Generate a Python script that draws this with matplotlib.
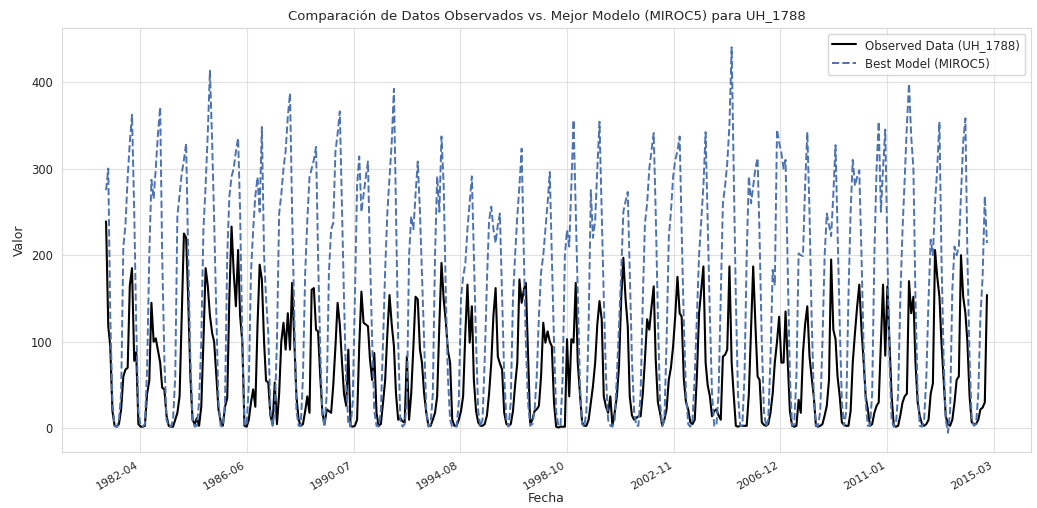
import numpy as np
import pandas as pd
import matplotlib
matplotlib.use("Agg")
import matplotlib.pyplot as plt
import matplotlib.dates as mdates
import seaborn as sns

# ---------------- data (monthly, Jan 1981 - Dec 2014) ----------------
start_month = "1981-01-01"

observed = [
    239, 118, 95, 20, 3, 2, 5, 22, 60, 68, 70, 165,            # 1981
    185, 78, 88, 5, 2, 2, 3, 40, 55, 145, 100, 104,            # 1982
    90, 76, 47, 45, 15, 3, 2, 2, 10, 18, 37, 130,              # 1983
    225, 220, 150, 60, 10, 5, 12, 3, 25, 100, 185, 165,        # 1984
    130, 110, 100, 60, 22, 8, 3, 25, 35, 152, 233, 180,        # 1985
    141, 206, 130, 100, 3, 2, 10, 30, 45, 25, 120, 189,        # 1986
    172, 100, 55, 53, 15, 5, 53, 5, 40, 100, 122, 91,          # 1987
    133, 91, 168, 100, 37, 10, 3, 5, 20, 37, 18, 160,          # 1988
    162, 114, 112, 60, 18, 5, 22, 20, 18, 50, 95, 145,         # 1989
    120, 76, 40, 26, 91, 3, 2, 3, 10, 95, 158, 122,            # 1990
    120, 118, 80, 56, 87, 18, 3, 5, 30, 56, 110, 154,          # 1991
    120, 95, 40, 10, 12, 8, 7, 83, 10, 40, 95, 152,            # 1992
    149, 91, 76, 40, 18, 3, 3, 10, 18, 37, 120, 191,           # 1993
    149, 122, 90, 76, 10, 3, 3, 10, 20, 37, 110, 166,          # 1994
    99, 141, 56, 20, 7, 3, 3, 5, 15, 40, 76, 130,              # 1995
    162, 83, 75, 68, 18, 5, 3, 5, 20, 50, 76, 172,             # 1996
    145, 160, 168, 83, 5, 10, 20, 22, 26, 60, 122, 99,         # 1997
    112, 100, 95, 30, 2, 1, 2, 2, 2, 103, 37, 103,             # 1998
    99, 168, 76, 40, 7, 3, 3, 10, 30, 49, 76, 120,             # 1999
    147, 126, 37, 25, 18, 37, 3, 18, 37, 72, 150, 197,         # 2000
    150, 118, 37, 15, 10, 12, 14, 14, 40, 80, 126, 114,        # 2001
    140, 164, 80, 30, 18, 3, 10, 22, 56, 70, 95, 130,          # 2002
    175, 133, 129, 56, 30, 22, 7, 5, 10, 60, 133, 160,         # 2003
    187, 76, 50, 37, 14, 20, 22, 15, 10, 83, 85, 91,           # 2004
    187, 76, 40, 3, 2, 3, 3, 3, 3, 40, 114, 187,               # 2005
    120, 60, 56, 7, 4, 3, 5, 18, 40, 76, 100, 129,             # 2006
    76, 76, 135, 76, 20, 3, 2, 3, 33, 18, 87, 120,             # 2007
    141, 83, 60, 37, 3, 2, 3, 5, 15, 26, 56, 195,              # 2008
    114, 103, 60, 37, 7, 4, 3, 3, 20, 76, 110, 140,            # 2009
    166, 114, 80, 37, 22, 3, 5, 18, 26, 30, 100, 166,          # 2010
    84, 164, 100, 37, 3, 2, 3, 15, 30, 37, 40, 170,            # 2011
    133, 152, 76, 30, 14, 5, 3, 5, 10, 40, 52, 206,            # 2012
    175, 152, 100, 56, 14, 5, 3, 10, 30, 56, 60, 200,          # 2013
    152, 133, 100, 37, 7, 5, 5, 10, 22, 24, 30, 154,           # 2014
]

model = [
    275, 300, 130, 30, 3, 2, 10, 40, 210, 235, 290, 330,       # 1981
    362, 250, 120, 20, 3, 2, 5, 68, 200, 287, 265, 300,        # 1982
    340, 371, 200, 80, 10, 2, 2, 10, 60, 245, 270, 294,        # 1983
    310, 329, 200, 80, 10, 2, 3, 30, 100, 230, 280, 340,       # 1984
    413, 330, 240, 130, 30, 3, 2, 30, 200, 268, 291, 300,      # 1985
    320, 335, 250, 100, 5, 3, 50, 180, 230, 268, 290, 250,     # 1986
    348, 200, 150, 110, 20, 3, 20, 100, 248, 270, 300, 320,    # 1987
    360, 387, 250, 130, 20, 3, 3, 60, 179, 240, 290, 300,      # 1988
    310, 325, 200, 90, 15, 2, 40, 180, 230, 237, 320, 340,     # 1989
    366, 250, 150, 50, 5, 2, 30, 150, 280, 314, 250, 270,      # 1990
    290, 308, 200, 100, 20, 3, 2, 20, 100, 183, 250, 290,      # 1991
    330, 392, 250, 100, 10, 2, 5, 30, 200, 245, 230, 270,      # 1992
    308, 250, 180, 100, 20, 2, 5, 40, 200, 291, 250, 337,      # 1993
    280, 150, 60, 10, 2, 2, 2, 30, 150, 175, 190, 230,         # 1994
    260, 291, 200, 100, 20, 2, 10, 80, 170, 240, 256, 230,     # 1995
    214, 235, 248, 150, 60, 10, 2, 30, 150, 200, 245, 280,     # 1996
    323, 200, 100, 30, 3, 5, 20, 60, 130, 180, 200, 230,       # 1997
    260, 296, 200, 100, 20, 3, 3, 60, 200, 229, 210, 280,      # 1998
    356, 250, 150, 50, 5, 2, 20, 120, 275, 220, 240, 300,      # 1999
    354, 250, 150, 60, 10, 3, 2, 10, 60, 120, 180, 250,        # 2000
    262, 273, 180, 80, 20, 3, 3, 40, 150, 237, 260, 300,       # 2001
    320, 341, 250, 130, 30, 3, 10, 100, 220, 250, 290, 310,    # 2002
    320, 337, 230, 120, 40, 5, 2, 10, 60, 130, 200, 239,       # 2003
    280, 342, 240, 130, 40, 3, 3, 40, 150, 260, 280, 306,      # 2004
    350, 440, 300, 150, 40, 3, 3, 60, 200, 291, 260, 280,      # 2005
    300, 312, 220, 100, 20, 2, 10, 80, 183, 165, 345, 330,     # 2006
    318, 300, 310, 180, 60, 3, 5, 60, 202, 200, 199, 280,      # 2007
    342, 250, 130, 40, 3, 3, 20, 100, 200, 248, 235, 222,      # 2008
    270, 327, 230, 120, 30, 3, 20, 150, 250, 310, 280, 290,    # 2009
    298, 200, 100, 30, 3, 3, 40, 200, 300, 354, 250, 300,      # 2010
    345, 200, 80, 10, 2, 5, 40, 150, 230, 287, 350, 398,       # 2011
    337, 300, 150, 40, 3, 2, 10, 60, 150, 218, 200, 260,       # 2012
    300, 354, 200, 80, 10, -5, 20, 160, 210, 200, 210, 270,    # 2013
    330, 358, 200, 80, 10, 3, 5, 40, 130, 175, 268, 214,       # 2014
]

obs_label = "Observed Data (UH_1788)"
model_label = "Best Model (MIROC5)"
title = "Comparación de Datos Observados vs. Mejor Modelo (MIROC5) para UH_1788"
xlabel = "Fecha"
ylabel = "Valor"
yticks = [0, 100, 200, 300, 400]
tick_days = [4500 + 1500 * k for k in range(9)]   # matplotlib date numbers

# ---------------- plot ----------------
sns.set_style("whitegrid", {"grid.color": "0.88", "axes.edgecolor": "0.85"})
plt.rcParams["font.family"] = ["DejaVu Sans"]

dates = pd.date_range(start_month, periods=len(observed), freq="MS")

fig, ax = plt.subplots(figsize=(10.37, 5.08), dpi=100)
fig.subplots_adjust(left=0.0598, right=0.9942, top=0.9449, bottom=0.1102)

ax.plot(dates, observed, color="black", lw=1.5, label=obs_label)
ax.plot(dates, model, color="#4c72b0", lw=1.4, ls="--", label=model_label)

ax.set_xticks(tick_days)
ax.xaxis.set_major_formatter(mdates.DateFormatter("%Y-%m"))
ax.set_yticks(yticks)
for lab in ax.get_xticklabels():
    lab.set_rotation(30)
    lab.set_ha("right")

ax.tick_params(axis="x", labelsize=8, colors=".15", pad=2)
ax.tick_params(axis="y", labelsize=8.3, colors=".15", pad=3)
ax.set_title(title, fontsize=9.5, color=".15", pad=6)
ax.set_xlabel(xlabel, fontsize=9, color=".15", labelpad=0)
ax.set_ylabel(ylabel, fontsize=9, color=".15", labelpad=4)

leg = ax.legend(loc="upper right", fontsize=8.5, frameon=True)
leg.get_frame().set_edgecolor(".8")

fig.savefig("out.png", dpi=100)
